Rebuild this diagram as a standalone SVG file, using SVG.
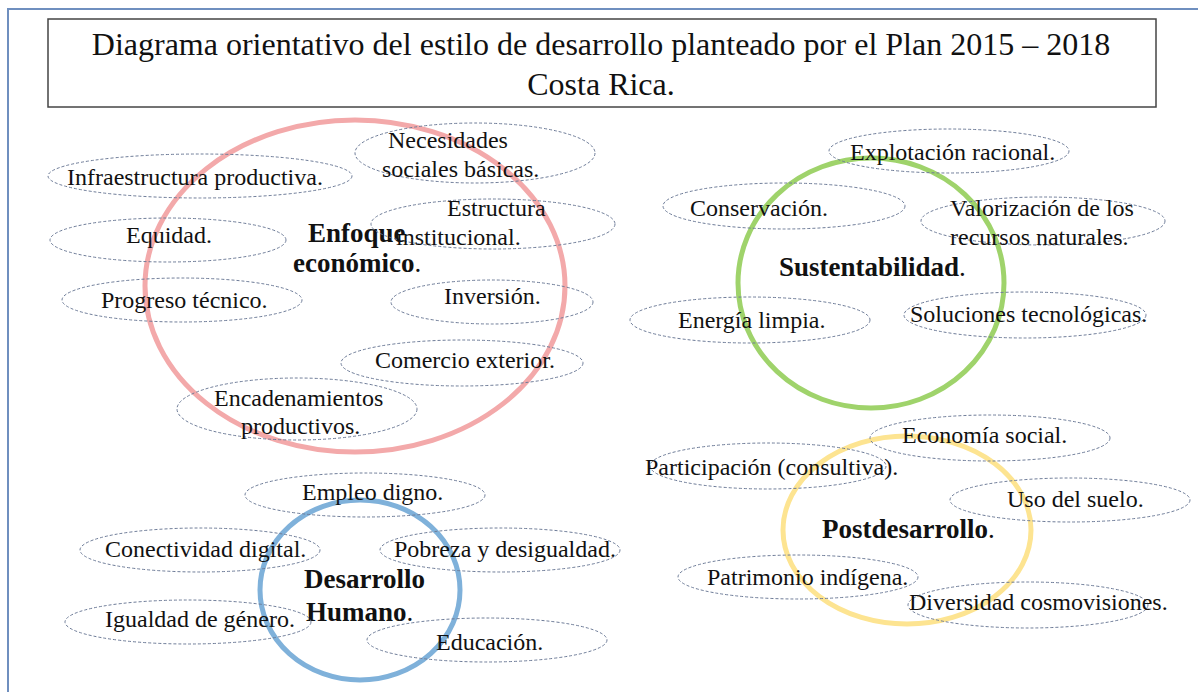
<svg xmlns="http://www.w3.org/2000/svg" width="1198" height="692" viewBox="0 0 1198 692">
<style>
.t{font-family:'Liberation Serif',Tinos,'Times New Roman',Times,'DejaVu Serif','Noto Serif',serif;font-size:24px;fill:#111}
.b{font-family:'Liberation Serif',Tinos,'Times New Roman',Times,'DejaVu Serif','Noto Serif',serif;font-size:27px;font-weight:bold;fill:#111}
.h{font-family:'Liberation Serif',Tinos,'Times New Roman',Times,'DejaVu Serif','Noto Serif',serif;font-size:32px;fill:#111}
.n{font-weight:normal}
.e{fill:none;stroke:#6e7c98;stroke-width:1;stroke-dasharray:3 2}
.hub{fill:none;stroke-width:5}
</style>
<rect width="1198" height="692" fill="#fff"/>
<rect x="8" y="9" width="1200" height="700" fill="none" stroke="#6f8fbf" stroke-width="2"/>
<g id="title">
<rect x="48" y="19" width="1108" height="88" fill="#fff" stroke="#444" stroke-width="1.5"/>
<text class="h" x="601" y="55" text-anchor="middle">Diagrama orientativo del estilo de desarrollo planteado por el Plan 2015 – 2018</text>
<text class="h" x="601" y="95" text-anchor="middle">Costa Rica.</text>
</g>
<g id="hub-circles">
<ellipse id="circle-enfoque" class="hub" cx="355" cy="286" rx="210" ry="166" stroke="#f3a9aa"/>
<ellipse id="circle-sustentabilidad" class="hub" cx="871" cy="283" rx="133" ry="125" stroke="#9fd36b"/>
<ellipse id="circle-humano" class="hub" cx="360" cy="590" rx="100" ry="90" stroke="#7fb1da"/>
<ellipse id="circle-postdesarrollo" class="hub" cx="907" cy="530" rx="124" ry="94" stroke="#fde491"/>
</g>
<g id="connectors"></g>
<g id="enfoque-label"><text class="b" x="308" y="242">Enfoque</text><text class="b" x="293" y="272">económico<tspan class="n">.</tspan></text></g>
<g id="sustentabilidad-label"><text class="b" x="779" y="276">Sustentabilidad<tspan class="n">.</tspan></text></g>
<g id="humano-label"><text class="b" x="304" y="588">Desarrollo</text><text class="b" x="306" y="621">Humano<tspan class="n">.</tspan></text></g>
<g id="postdesarrollo-label"><text class="b" x="822" y="538">Postdesarrollo<tspan class="n">.</tspan></text></g>

<g id="n-infraestructura"><ellipse class="e" cx="200" cy="176" rx="152" ry="22"/><text class="t" x="67" y="185">Infraestructura productiva.</text></g>
<g id="n-necesidades"><ellipse class="e" cx="475" cy="153" rx="120" ry="30"/><text class="t" x="388" y="148">Necesidades</text><text class="t" x="382" y="177">sociales básicas.</text></g>
<g id="n-equidad"><ellipse class="e" cx="168" cy="240" rx="118" ry="22"/><text class="t" x="126" y="243">Equidad.</text></g>
<g id="n-estructura"><ellipse class="e" cx="493" cy="224" rx="122" ry="25"/><text class="t" x="447" y="216">Estructura</text><text class="t" x="396" y="245">institucional.</text></g>
<g id="n-progreso"><ellipse class="e" cx="182" cy="300" rx="120" ry="22"/><text class="t" x="101" y="308">Progreso técnico.</text></g>
<g id="n-inversion"><ellipse class="e" cx="492" cy="302" rx="101" ry="22"/><text class="t" x="444" y="304">Inversión.</text></g>
<g id="n-comercio"><ellipse class="e" cx="462" cy="363" rx="121" ry="23"/><text class="t" x="375" y="368">Comercio exterior.</text></g>
<g id="n-encadenamientos"><ellipse class="e" cx="297" cy="409" rx="120" ry="31"/><text class="t" x="214" y="406">Encadenamientos</text><text class="t" x="241" y="434">productivos.</text></g>

<g id="n-explotacion"><ellipse class="e" cx="949" cy="151" rx="120" ry="22"/><text class="t" x="850" y="160">Explotación racional.</text></g>
<g id="n-conservacion"><ellipse class="e" cx="784" cy="206" rx="121" ry="23"/><text class="t" x="690" y="216">Conservación.</text></g>
<g id="n-valorizacion"><ellipse class="e" cx="1043" cy="221" rx="122" ry="24"/><text class="t" x="950" y="216">Valorización de los</text><text class="t" x="950" y="245">recursos naturales.</text></g>
<g id="n-energia"><ellipse class="e" cx="750" cy="320" rx="120" ry="23"/><text class="t" x="678" y="328">Energía limpia.</text></g>
<g id="n-soluciones"><ellipse class="e" cx="1025" cy="315" rx="121" ry="23"/><text class="t" x="910" y="322">Soluciones tecnológicas.</text></g>

<g id="n-empleo"><ellipse class="e" cx="365" cy="495" rx="120" ry="22"/><text class="t" x="302" y="500">Empleo digno.</text></g>
<g id="n-conectividad"><ellipse class="e" cx="200" cy="550" rx="120" ry="22"/><text class="t" x="105" y="557">Conectividad digital.</text></g>
<g id="n-pobreza"><ellipse class="e" cx="500" cy="550" rx="120" ry="22"/><text class="t" x="394" y="557">Pobreza y desigualdad.</text></g>
<g id="n-igualdad"><ellipse class="e" cx="188" cy="622" rx="123" ry="22"/><text class="t" x="105" y="627">Igualdad de género.</text></g>
<g id="n-educacion"><ellipse class="e" cx="487" cy="640" rx="120" ry="22"/><text class="t" x="436" y="650">Educación.</text></g>

<g id="n-economia"><ellipse class="e" cx="990" cy="438" rx="120" ry="23"/><text class="t" x="902" y="443">Economía social.</text></g>
<g id="n-participacion"><ellipse class="e" cx="768" cy="466" rx="118" ry="23"/><text class="t" x="645" y="475">Participación (consultiva).</text></g>
<g id="n-uso"><ellipse class="e" cx="1070" cy="500" rx="120" ry="22"/><text class="t" x="1007" y="507">Uso del suelo.</text></g>
<g id="n-patrimonio"><ellipse class="e" cx="798" cy="577" rx="120" ry="22"/><text class="t" x="707" y="585">Patrimonio indígena.</text></g>
<g id="n-diversidad"><ellipse class="e" cx="1028" cy="605" rx="120" ry="23"/><text class="t" x="909" y="610">Diversidad cosmovisiones.</text></g>
</svg>
